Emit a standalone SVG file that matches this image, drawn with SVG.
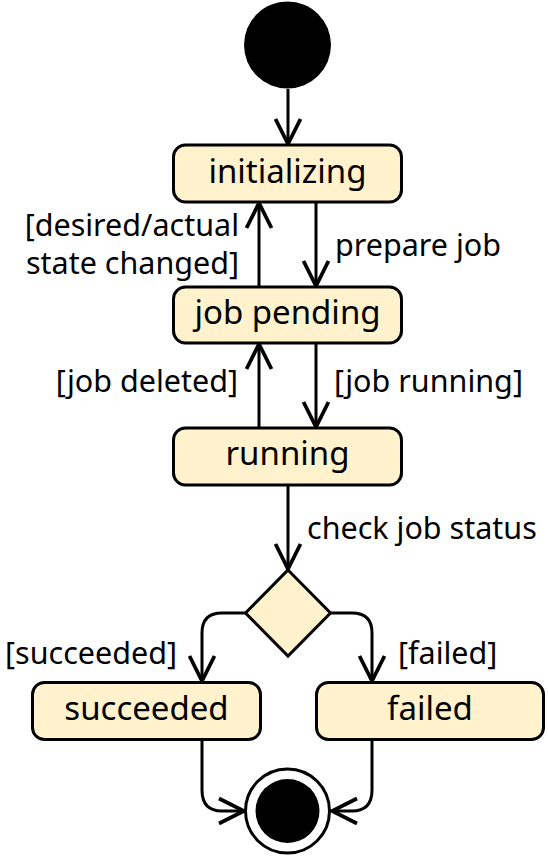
<svg xmlns="http://www.w3.org/2000/svg" width="548" height="856" viewBox="0 0 548 856">
<defs>
<style>
.state rect{fill:#fff2cc;stroke:#000;stroke-width:3}
.state text{font-family:"Noto Sans","Open Sans",sans-serif;font-size:33px;fill:#000;text-anchor:middle}
.lbl{font-family:"Noto Sans","Open Sans",sans-serif;font-size:30.5px;fill:#000}
.edge{fill:none;stroke:#000;stroke-width:3;marker-end:url(#arr)}
</style>
<marker id="arr" markerUnits="userSpaceOnUse" markerWidth="30" markerHeight="30" viewBox="-22 -12 24 24" refX="0" refY="0" orient="auto">
<path d="M-20,-10 L0,0 L-20,10" fill="none" stroke="#000" stroke-width="3"/>
</marker>
</defs>
<rect width="548" height="856" fill="#fff"/>
<g id="connectors">
<path class="edge" d="M288,89 V144"/>
<path class="edge" d="M316,202 V286"/>
<path class="edge" d="M259,287 V203"/>
<path class="edge" d="M316,343 V427"/>
<path class="edge" d="M259,428 V344"/>
<path class="edge" d="M288,485 V569"/>
<path class="edge" d="M245.5,613 H222 Q202,613 202,633 V681"/>
<path class="edge" d="M330.5,613 H352 Q372,613 372,633 V681"/>
<path class="edge" d="M202,740 V790 Q202,811 222,811 H244"/>
<path class="edge" d="M372,740 V790 Q372,811 352,811 H332"/>
</g>
<g id="start"><circle cx="287.5" cy="45" r="43.5" fill="#000"/></g>
<g id="initializing" class="state"><rect x="173.5" y="145" width="228" height="57" rx="12"/><text x="287.5" y="183">initializing</text></g>
<g id="job-pending" class="state"><rect x="173.5" y="287" width="228" height="56" rx="12"/><text x="287.5" y="324">job pending</text></g>
<g id="running" class="state"><rect x="173.5" y="428" width="228" height="57" rx="12"/><text x="287.5" y="465">running</text></g>
<g id="decision"><path d="M288,570 L330.5,613 L288,656 L245.5,613 Z" fill="#fff2cc" stroke="#000" stroke-width="3"/></g>
<g id="succeeded" class="state"><rect x="32.5" y="682.5" width="228" height="57" rx="12"/><text x="146.5" y="720">succeeded</text></g>
<g id="failed" class="state"><rect x="316.5" y="682.5" width="227" height="57" rx="12"/><text x="430" y="720">failed</text></g>
<g id="end"><circle cx="287.5" cy="811" r="42" fill="#fff" stroke="#000" stroke-width="3"/><circle cx="287.5" cy="811" r="32" fill="#000"/></g>
<g id="labels">
<text class="lbl" x="239" y="236" text-anchor="end">[desired/actual</text>
<text class="lbl" x="239" y="274" text-anchor="end">state changed]</text>
<text class="lbl" x="335" y="256">prepare job</text>
<text class="lbl" x="238" y="392" text-anchor="end">[job deleted]</text>
<text class="lbl" x="334" y="392">[job running]</text>
<text class="lbl" x="307" y="539">check job status</text>
<text class="lbl" x="177" y="664" text-anchor="end">[succeeded]</text>
<text class="lbl" x="398" y="664">[failed]</text>
</g>
</svg>
